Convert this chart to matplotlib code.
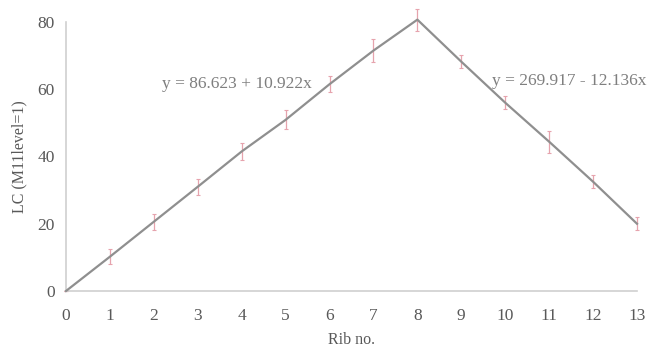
import matplotlib
matplotlib.use("Agg")
import matplotlib.pyplot as plt

# LC per rib, with standard deviation
ribs = [0, 1, 2, 3, 4, 5, 6, 7, 8, 9, 10, 11, 12, 13]
lc = [0, 10.2, 20.6, 31.0, 41.5, 50.9, 61.5, 71.5, 80.7, 68.2, 56.0, 44.4, 32.5, 20.0]
lc_err = [0, 2.2, 2.4, 2.4, 2.4, 2.8, 2.4, 3.5, 3.3, 2.0, 1.9, 3.3, 2.0, 2.0]

xticks = list(range(0, 14))
yticks = [0, 20, 40, 60, 80]

eq_up = "y = 86.623 + 10.922x"
eq_down = "y = 269.917 - 12.136x"

plt.rcParams['font.family'] = ['Liberation Serif', 'DejaVu Serif']
txt = '#595959'

fig = plt.figure(figsize=(6.52, 3.52), dpi=100)
ax = fig.add_axes([0.1012, 0.1733, 0.8758, 0.7642])

eb = ax.errorbar(ribs, lc, yerr=lc_err, fmt='none', ecolor='#e6a3ad',
                 elinewidth=0.9, capsize=1.5, capthick=0.8, zorder=2)
for art in eb.lines[1] + eb.lines[2]:
    art.set_clip_on(False)
line, = ax.plot(ribs, lc, color='#8f8f8f', lw=1.6, zorder=3)
line.set_clip_on(False)

ax.set_xlim(0, 13)
ax.set_ylim(0, 80)
ax.set_xticks(xticks)
ax.set_yticks(yticks)
ax.tick_params(length=0, labelsize=12.5, labelcolor=txt, pad=8)
ax.tick_params(axis='x', pad=12)

for s in ['top', 'right']:
    ax.spines[s].set_visible(False)
for s in ['left', 'bottom']:
    ax.spines[s].set_color('#d0d0d0')
    ax.spines[s].set_linewidth(1.2)

ax.set_xlabel("Rib no.", fontsize=11.5, color=txt, labelpad=6)
ax.set_ylabel("LC (M11level=1)", fontsize=11.5, color=txt, labelpad=7)

ax.text(3.9, 61.5, eq_up, fontsize=12.5, color='#7f7f7f', ha='center', va='center')
ax.text(11.45, 62.6, eq_down, fontsize=12.5, color='#7f7f7f', ha='center', va='center')

fig.savefig("out.png", dpi=100)
